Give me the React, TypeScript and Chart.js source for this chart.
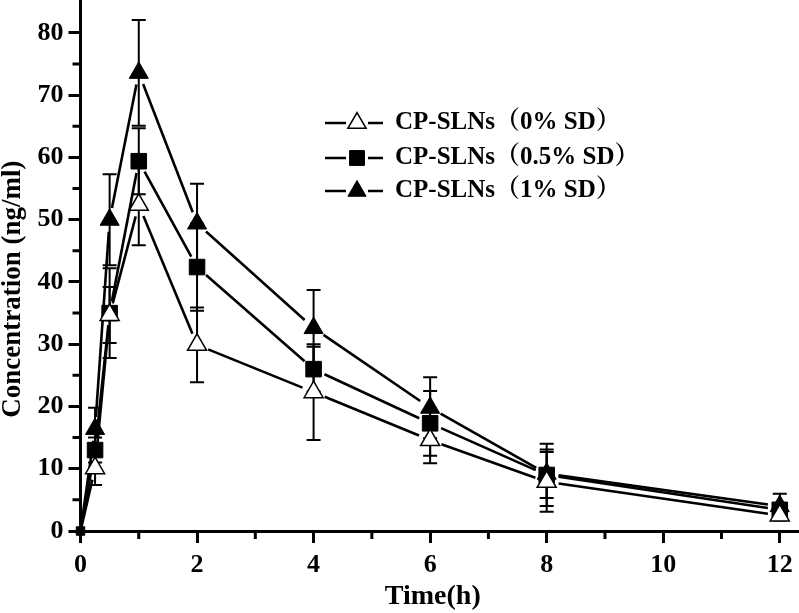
import React, { useEffect, useRef } from "react";
import { Chart, registerables } from "chart.js";

Chart.register(...registerables);

const times = [0, 0.25, 0.5, 1, 2, 4, 6, 8, 12];
const seriesLabels = ["CP-SLNs（0% SD）", "CP-SLNs（0.5% SD）", "CP-SLNs（1% SD）"];
const sd0Values = [0, 10.1, 34.7, 52.4, 29.9, 22.3, 14.6, 7.9, 2.5];
const sd0Errors = [0, 2.7, 4.5, 6.5, 6.0, 7.7, 3.7, 4.8, 0.8];
const sd05Values = [0, 13.0, 35.0, 59.4, 42.4, 26.0, 17.3, 9.0, 3.4];
const sd05Errors = [0, 2.0, 7.2, 5.3, 7.0, 3.6, 5.2, 5.0, 1.0];
const sd1Values = [0, 16.4, 50.0, 73.6, 49.4, 32.6, 19.8, 9.2, 4.0];
const sd1Errors = [0, 3.4, 7.3, 8.5, 6.4, 6.1, 4.9, 3.9, 2.0];
const xMajorTicks = [0, 2, 4, 6, 8, 10, 12];
const xMinorTicks = [1, 3, 5, 7, 9, 11];
const yMajorTicks = [0, 10, 20, 30, 40, 50, 60, 70, 80];
const yMinorTicks = [5, 15, 25, 35, 45, 55, 65, 75];

const SERIF = '"Liberation Serif", "Times New Roman", "Noto Serif CJK SC", "Noto Sans CJK SC", serif';

const errorsByDataset = [sd0Errors, sd05Errors, sd1Errors];

const linesAndErrorsPlugin = {
  id: "linesAndErrors",
  beforeDatasetsDraw(chart: any) {
    const ctx = chart.ctx;
    const yScale = chart.scales.y;
    ctx.save();
    ctx.strokeStyle = "#000";
    chart.data.datasets.forEach((ds: any, di: number) => {
      const meta = chart.getDatasetMeta(di);
      const pts = meta.data;
      ctx.lineWidth = 2.6;
      for (let i = 0; i < pts.length - 1; i++) {
        const a = pts[i], b = pts[i + 1];
        const gapA = i === 0 ? 4 : 12;
        const gapB = 12;
        const dx = b.x - a.x, dy = b.y - a.y;
        const len = Math.hypot(dx, dy);
        if (len <= gapA + gapB) continue;
        const ux = dx / len, uy = dy / len;
        ctx.beginPath();
        ctx.moveTo(a.x + ux * gapA, a.y + uy * gapA);
        ctx.lineTo(b.x - ux * gapB, b.y - uy * gapB);
        ctx.stroke();
      }
      const errs = errorsByDataset[di];
      ctx.lineWidth = 2;
      pts.forEach((p: any, i: number) => {
        const e = errs[i];
        if (!e) return;
        const v = ds.data[i].y;
        const yt = yScale.getPixelForValue(v + e);
        const yb = yScale.getPixelForValue(v - e);
        ctx.beginPath();
        ctx.moveTo(p.x, yt);
        ctx.lineTo(p.x, yb);
        ctx.moveTo(p.x - 7, yt);
        ctx.lineTo(p.x + 7, yt);
        ctx.moveTo(p.x - 7, yb);
        ctx.lineTo(p.x + 7, yb);
        ctx.stroke();
      });
    });
    ctx.restore();
  },
};

const minorTicksPlugin = {
  id: "minorTicks",
  afterDraw(chart: any) {
    const ctx = chart.ctx;
    const { x, y } = chart.scales;
    const area = chart.chartArea;
    ctx.save();
    ctx.strokeStyle = "#000";
    ctx.lineWidth = 3;
    ctx.beginPath();
    xMinorTicks.forEach((v) => {
      const px = x.getPixelForValue(v);
      ctx.moveTo(px, area.bottom);
      ctx.lineTo(px, area.bottom + 8);
    });
    yMinorTicks.forEach((v) => {
      const py = y.getPixelForValue(v);
      ctx.moveTo(area.left, py);
      ctx.lineTo(area.left - 8, py);
    });
    ctx.stroke();
    ctx.restore();
  },
};

const legendPlugin = {
  id: "customLegend",
  afterDraw(chart: any) {
    const ctx = chart.ctx;
    const rowsY = [123, 158, 191];
    ctx.save();
    chart.data.datasets.forEach((ds: any, di: number) => {
      const yy = rowsY[di];
      ctx.strokeStyle = "#000";
      ctx.lineWidth = 2.6;
      ctx.beginPath();
      ctx.moveTo(325, yy);
      ctx.lineTo(346, yy);
      ctx.moveTo(368, yy);
      ctx.lineTo(383, yy);
      ctx.stroke();
      const style = ds.legendStyle;
      ctx.fillStyle = ds.pointBackgroundColor;
      ctx.lineWidth = ds.pointBorderWidth;
      ctx.beginPath();
      const r = 10.5;
      if (style === "rect") {
        const s = r / Math.SQRT2;
        ctx.rect(357 - s, yy - s, 2 * s, 2 * s);
      } else {
        ctx.moveTo(357, yy - r);
        ctx.lineTo(357 + Math.sin((2 * Math.PI) / 3) * r, yy - Math.cos((2 * Math.PI) / 3) * r);
        ctx.lineTo(357 + Math.sin((4 * Math.PI) / 3) * r, yy - Math.cos((4 * Math.PI) / 3) * r);
        ctx.closePath();
      }
      ctx.fill();
      ctx.stroke();
      ctx.fillStyle = "#000";
      ctx.font = "bold 25px " + SERIF;
      ctx.textBaseline = "middle";
      ctx.textAlign = "left";
      ctx.fillText(ds.label, 395, yy);
    });
    ctx.restore();
  },
};

function toPoints(vals: number[]) {
  return times.map((t, i) => ({ x: t, y: vals[i] }));
}

export default function App() {
  const canvasRef = useRef<HTMLCanvasElement | null>(null);

  useEffect(() => {
    if (!canvasRef.current) return;
    const common = {
      showLine: false,
      borderColor: "#000",
      pointBorderColor: "#000",
      pointHoverRadius: 11,
      clip: false as any,
    };
    const chart = new Chart(canvasRef.current, {
      type: "scatter",
      data: {
        datasets: [
          {
            ...common,
            label: seriesLabels[0],
            data: toPoints(sd0Values),
            pointStyle: "triangle",
            legendStyle: "triangle",
            pointRadius: (c: any) => (c.dataIndex === 0 ? 0 : 11),
            pointBackgroundColor: "#fff",
            backgroundColor: "#fff",
            pointBorderWidth: 1.5,
          },
          {
            ...common,
            label: seriesLabels[1],
            data: toPoints(sd05Values),
            pointStyle: "rect",
            legendStyle: "rect",
            pointRadius: (c: any) => (c.dataIndex === 0 ? 6 : 11),
            pointBackgroundColor: "#000",
            backgroundColor: "#000",
            pointBorderWidth: 1,
          },
          {
            ...common,
            label: seriesLabels[2],
            data: toPoints(sd1Values),
            pointStyle: "triangle",
            legendStyle: "triangle",
            pointRadius: (c: any) => (c.dataIndex === 0 ? 0 : 11),
            pointBackgroundColor: "#000",
            backgroundColor: "#000",
            pointBorderWidth: 1,
          },
        ] as any,
      },
      options: {
        responsive: false,
        animation: false,
        layout: { padding: 0, autoPadding: false },
        plugins: {
          legend: { display: false },
          tooltip: { enabled: false },
        },
        scales: {
          x: {
            type: "linear",
            min: 0,
            max: 12.33,
            afterFit(scale: any) {
              scale.height = 82;
              scale.paddingLeft = 0;
              scale.paddingRight = 0;
            },
            afterBuildTicks(scale: any) {
              scale.ticks = xMajorTicks.map((v) => ({ value: v }));
            },
            ticks: {
              stepSize: 2,
              color: "#000",
              padding: 7,
              maxRotation: 0,
              autoSkip: false,
              font: { family: SERIF, size: 26, weight: "bold" },
            },
            grid: {
              display: true,
              drawOnChartArea: false,
              drawTicks: true,
              tickLength: 12,
              tickWidth: 3,
              tickColor: "#000",
              color: "#000",
            },
            border: { display: true, color: "#000", width: 3 },
            title: {
              display: true,
              text: "Time(h)  ",
              color: "#000",
              font: { family: SERIF, size: 28, weight: "bold", lineHeight: 1 },
              padding: { top: 0, bottom: 2 },
            },
          },
          y: {
            type: "linear",
            min: 0,
            max: 85.3,
            afterFit(scale: any) {
              scale.width = 80.5;
              scale.paddingTop = 0;
              scale.paddingBottom = 0;
            },
            afterBuildTicks(scale: any) {
              scale.ticks = yMajorTicks.map((v) => ({ value: v }));
            },
            ticks: {
              stepSize: 10,
              color: "#000",
              padding: 5,
              autoSkip: false,
              font: { family: SERIF, size: 26, weight: "bold" },
            },
            grid: {
              display: true,
              drawOnChartArea: false,
              drawTicks: true,
              tickLength: 12,
              tickWidth: 3,
              tickColor: "#000",
              color: "#000",
            },
            border: { display: true, color: "#000", width: 3 },
            title: {
              display: true,
              text: "Concentration (ng/ml)       ",
              color: "#000",
              font: { family: SERIF, size: 27, weight: "bold", lineHeight: 1 },
              padding: { top: 0, bottom: 0 },
            },
          },
        },
      } as any,
      plugins: [linesAndErrorsPlugin, minorTicksPlugin, legendPlugin],
    });
    return () => chart.destroy();
  }, []);

  return (
    <div style={{ position: "fixed", left: 0, top: 0, width: 799, height: 613, background: "#fff" }}>
      <canvas ref={canvasRef} width={799} height={613} style={{ display: "block" }} />
    </div>
  );
}
